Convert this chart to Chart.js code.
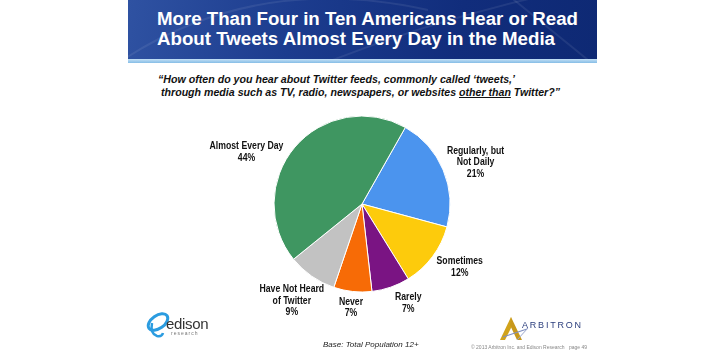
<!DOCTYPE html>
<html>
<head>
<meta charset="utf-8">
<script src="https://cdn.jsdelivr.net/npm/chart.js@4.4.0/dist/chart.umd.min.js"></script>
<style>
  body { margin: 0; background: #fff; width: 724px; height: 353px; overflow: hidden; position: relative; font-family: "Liberation Sans", Arial, sans-serif; }
  #chart { position: absolute; left: 0; top: 0; }
  .banner { position: absolute; left: 128px; top: 0; width: 469px; height: 59px;
    background: linear-gradient(100deg, #2f52a2 0%, #1c3c8e 35%, #112d7c 70%, #0e2974 100%); overflow: hidden; }
  .banner svg { position: absolute; left: 0; top: 0; }
  .strip { position: absolute; left: 128px; top: 59px; width: 469px; height: 4px; background: linear-gradient(#c4e0f5, #86bde6); }
  .title { position: absolute; left: 157px; color: #fff; font-weight: bold; font-size: 18px; line-height: 20px; white-space: nowrap; transform-origin: 0 0; }
  .quote { position: absolute; color: #111; font-weight: bold; font-style: italic; font-size: 11px; line-height: 13px; white-space: nowrap; transform-origin: 0 0; }
  .fit { display: inline-block; }
  .small { position: absolute; white-space: nowrap; }
</style>
</head>
<body>
<div class="banner">
  <svg width="469" height="59">
    <path d="M-20 70 Q 120 -30 300 10" stroke="rgba(255,255,255,0.08)" stroke-width="2" fill="none"/>
    <path d="M180 70 Q 300 20 440 -10" stroke="rgba(255,255,255,0.08)" stroke-width="2" fill="none"/>
    <path d="M380 -5 L 460 60" stroke="rgba(255,255,255,0.08)" stroke-width="2" fill="none"/>
  </svg>
</div>
<div class="strip"></div>
<div class="title fit" style="top:9px" data-w="421">More Than Four in Ten Americans Hear or Read</div>
<div class="title fit" style="top:29px" data-w="398">About Tweets Almost Every Day in the Media</div>
<div class="quote fit" style="left:158px; top:73px" data-w="357">“How often do you hear about Twitter feeds, commonly called ‘tweets,’</div>
<div class="quote fit" style="left:161px; top:86px" data-w="399">through media such as TV, radio, newspapers, or websites <u>other than</u> Twitter?”</div>

<canvas id="chart" width="724" height="353"></canvas>

<!-- edison logo -->
<svg class="small" style="left:145px; top:311px" width="26" height="30">
  <ellipse cx="13" cy="11" rx="11" ry="6.5" transform="rotate(-35 13 11)" fill="none" stroke="#2b9ce0" stroke-width="3"/>
  <path d="M7 12 Q 5 23 12 25 Q 17 26 18 22" fill="none" stroke="#2b9ce0" stroke-width="2.5"/>
</svg>
<div class="small" style="left:166px; top:315px; font-size:15px; color:#333; letter-spacing:-0.3px">edison</div>
<div class="small" style="left:171px; top:330px; font-size:5px; color:#777; letter-spacing:1px">research</div>

<!-- arbitron logo -->
<svg class="small" style="left:497px; top:315px" width="36" height="28">
  <path d="M14 2 L 3 25 L 8 25 L 15 11 Z" fill="#d1a31b"/>
  <path d="M14 2 L 25 25 L 20 25 L 13 10 Z" fill="#c8981a"/>
  <path d="M6 22 L 30 14" stroke="#7f8fbf" stroke-width="1.2"/>
  <path d="M20 25 L 31 13" stroke="#9aa6cc" stroke-width="1"/>
</svg>
<div class="small" style="left:522px; top:320px; font-size:9px; color:#2a3d7c; letter-spacing:1.8px">ARBITRON</div>

<div class="small" style="left:323px; top:340px; font-size:8px; font-style:italic; color:#222">Base: Total Population 12+</div>
<div class="small" style="left:471px; top:344px; font-size:5px; color:#888">© 2013 Arbitron Inc. and Edison Research</div>
<div class="small" style="left:569px; top:344px; font-size:5px; color:#888">page 49</div>

<script>
// slices, clockwise from the top-right
const categories = [
  ['Regularly, but', 'Not Daily'],
  ['Sometimes'],
  ['Rarely'],
  ['Never'],
  ['Have Not Heard', 'of Twitter'],
  ['Almost Every Day']
];
const values = [21, 12, 7, 7, 9, 44];
const sliceColors = ['#4b94ee', '#fdcb0c', '#7a1483', '#f76b06', '#c2c2c2', '#3f9661'];

// label placement: distance as a multiple of radius, and angle nudge in degrees
const labelDist = [1.375, 1.32, 1.24, 1.18, 1.36, 1.44];
const labelNudge = [2.5, -4, -6, 0, 1, -16];

// stretch/squeeze html text lines to the width they have in the slide
document.querySelectorAll('.fit').forEach(el => {
  const w = el.getBoundingClientRect().width;
  el.style.transform = 'scaleX(' + (el.dataset.w / w) + ')';
});

const outsideLabels = {
  id: 'outsideLabels',
  afterDatasetsDraw(chart) {
    const ctx = chart.ctx;
    const arcs = chart.getDatasetMeta(0).data;
    ctx.save();
    ctx.fillStyle = '#111';
    ctx.font = 'bold 11px "Liberation Sans", Arial, sans-serif';
    ctx.textAlign = 'center';
    ctx.textBaseline = 'middle';
    arcs.forEach((arc, i) => {
      const p = arc.getProps(['x', 'y', 'startAngle', 'endAngle', 'outerRadius'], true);
      const mid = (p.startAngle + p.endAngle) / 2 + labelNudge[i] * Math.PI / 180;
      const r = p.outerRadius * labelDist[i];
      const cx = p.x + Math.cos(mid) * r;
      const cy = p.y + Math.sin(mid) * r;
      const lines = categories[i].concat([values[i] + '%']);
      const lh = 11.5;
      lines.forEach((t, k) => {
        ctx.save();
        ctx.translate(cx, cy + (k - (lines.length - 1) / 2) * lh);
        ctx.scale(0.79, 1); // the slide font is a condensed helvetica
        ctx.fillText(t, 0, 0);
        ctx.restore();
      });
    });
    ctx.restore();
  }
};

new Chart(document.getElementById('chart'), {
  type: 'pie',
  data: {
    labels: categories.map(c => c.join(' ')),
    datasets: [{
      data: values,
      backgroundColor: sliceColors,
      borderColor: '#ffffff',
      borderWidth: 1
    }]
  },
  options: {
    responsive: false,
    animation: false,
    rotation: 29.5,
    radius: 88,
    layout: { padding: { top: 110, bottom: 55, left: 0, right: 0 } },
    plugins: {
      legend: { display: false },
      tooltip: { enabled: false }
    },
    events: []
  },
  plugins: [outsideLabels]
});
</script>
</body>
</html>
